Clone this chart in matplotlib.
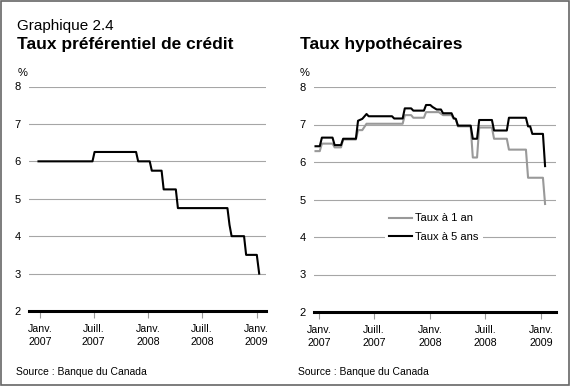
import pandas as pd
import matplotlib
matplotlib.use("Agg")
import matplotlib.pyplot as plt
from matplotlib.patches import Rectangle

plt.rcParams['font.family'] = ['Liberation Sans', 'DejaVu Sans']

# Taux préférentiel
prime_dates = ["2006-12-27", "2007-06-27", "2007-07-04", "2007-11-21", "2007-11-28",
               "2008-01-06", "2008-01-13", "2008-02-15", "2008-02-22", "2008-04-03",
               "2008-04-10", "2008-09-24", "2008-10-01", "2008-10-08", "2008-11-19",
               "2008-11-26", "2009-01-01", "2009-01-09"]
prime_vals = [6.0, 6.0, 6.25, 6.25, 6.0,
              6.0, 5.75, 5.75, 5.25, 5.25,
              4.75, 4.75, 4.3, 4.0, 4.0,
              3.5, 3.5, 3.0]

# Taux hypothécaires à 5 ans
m5_dates = ["2006-12-20", "2007-01-03", "2007-01-10", "2007-02-14", "2007-02-21",
            "2007-03-14", "2007-03-21", "2007-05-02", "2007-05-09", "2007-05-23",
            "2007-06-06", "2007-06-13", "2007-08-29", "2007-09-05", "2007-10-03",
            "2007-10-10", "2007-10-31", "2007-11-07", "2007-12-12", "2007-12-19",
            "2008-01-02", "2008-01-09", "2008-01-23", "2008-02-06", "2008-02-13",
            "2008-03-12", "2008-03-19", "2008-03-26", "2008-04-02", "2008-05-14",
            "2008-05-21", "2008-06-04", "2008-06-11", "2008-07-23", "2008-07-30",
            "2008-09-10", "2008-09-17", "2008-11-12", "2008-11-19", "2008-11-26",
            "2008-12-03", "2009-01-07", "2009-01-14"]
m5_vals = [6.42, 6.42, 6.65, 6.65, 6.45,
           6.45, 6.62, 6.62, 7.10, 7.15,
           7.28, 7.22, 7.22, 7.16, 7.16,
           7.43, 7.43, 7.37, 7.37, 7.52,
           7.52, 7.47, 7.40, 7.40, 7.30,
           7.30, 7.17, 7.15, 6.97, 6.97,
           6.62, 6.62, 7.12, 7.12, 6.84,
           6.84, 7.18, 7.18, 6.95, 6.95,
           6.75, 6.75, 5.89]

# Taux hypothécaires à 1 an
m1_dates = ["2006-12-20", "2007-01-03", "2007-01-10", "2007-02-14", "2007-02-21",
            "2007-03-14", "2007-03-21", "2007-05-02", "2007-05-09", "2007-05-23",
            "2007-06-06", "2007-10-03", "2007-10-10", "2007-10-31", "2007-11-07",
            "2007-12-12", "2007-12-19", "2008-01-30", "2008-02-13", "2008-03-12",
            "2008-03-19", "2008-03-26", "2008-04-02", "2008-05-14", "2008-05-21",
            "2008-06-04", "2008-06-11", "2008-07-23", "2008-07-30", "2008-09-10",
            "2008-09-17", "2008-11-12", "2008-11-19", "2009-01-07", "2009-01-14"]
m1_vals = [6.29, 6.29, 6.49, 6.49, 6.39,
           6.39, 6.60, 6.60, 6.85, 6.85,
           7.02, 7.02, 7.25, 7.25, 7.18,
           7.18, 7.33, 7.33, 7.25, 7.25,
           7.15, 7.15, 6.95, 6.95, 6.12,
           6.12, 6.92, 6.92, 6.62, 6.62,
           6.33, 6.33, 5.58, 5.58, 4.88]

tick_dates = ["2007-01-01", "2007-07-01", "2008-01-01", "2008-07-01", "2009-01-01"]
tick_labels = ["Janv.\n2007", "Juill.\n2007", "Janv.\n2008", "Juill.\n2008", "Janv.\n2009"]
y_ticks = [2, 3, 4, 5, 6, 7, 8]

fig = plt.figure(figsize=(5.75, 3.86), dpi=100)

ax1 = fig.add_axes([29/575, 75/386, 237/575, 224.5/386])
ax2 = fig.add_axes([314/575, 74/386, 242/575, 225/386])


def style(ax, xmin, xmax):
    ax.set_ylim(2, 8)
    ax.set_xlim(pd.Timestamp(xmin), pd.Timestamp(xmax))
    for s in ["top", "right", "left"]:
        ax.spines[s].set_visible(False)
    ax.spines["bottom"].set_linewidth(2.2)
    ax.spines["bottom"].set_color("black")
    ax.spines["bottom"].set_zorder(5)
    ax.set_yticks(y_ticks)
    ax.set_yticklabels([str(v) for v in y_ticks])
    ax.yaxis.grid(True, color="#a6a6a6", linewidth=0.8)
    ax.set_axisbelow(True)
    ax.set_xticks(pd.to_datetime(tick_dates))
    ax.set_xticklabels(tick_labels, linespacing=1.4)
    ax.tick_params(axis="y", length=0, pad=6, labelsize=8)
    ax.tick_params(axis="x", length=5, width=0.8, color="#999999", pad=4.5,
                   labelsize=7.7, direction="out")


ax1.plot(pd.to_datetime(prime_dates), prime_vals, color="black", lw=1.5, zorder=3)
style(ax1, "2006-11-25", "2009-02-01")

ax2.plot(pd.to_datetime(m1_dates), m1_vals, color="#999999", lw=1.5, zorder=3,
         label="Taux à 1 an")
ax2.plot(pd.to_datetime(m5_dates), m5_vals, color="black", lw=1.5, zorder=4,
         label="Taux à 5 ans")
style(ax2, "2006-12-15", "2009-02-19")
leg = ax2.legend(loc="center", bbox_to_anchor=(0.495, 0.375), frameon=True,
                 fontsize=8, handlelength=2.0, handletextpad=0.3, labelspacing=0.75,
                 borderpad=0.4, borderaxespad=0)
leg.get_frame().set_facecolor("white")
leg.get_frame().set_edgecolor("none")
leg.get_frame().set_alpha(1)

# Textes
fig.text(17/575, 1 - 30/386, "Graphique 2.4", fontsize=11, va="baseline")
fig.text(17/575, 1 - 49/386, "Taux préférentiel de crédit", fontsize=12.5,
         fontweight="bold", va="baseline")
fig.text(300/575, 1 - 49/386, "Taux hypothécaires", fontsize=12.5,
         fontweight="bold", va="baseline")
fig.text(18/575, 1 - 76/386, "%", fontsize=8, va="baseline")
fig.text(300/575, 1 - 76/386, "%", fontsize=8, va="baseline")
fig.text(16/575, 1 - 375/386, "Source : Banque du Canada", fontsize=7.5, va="baseline")
fig.text(298/575, 1 - 375/386, "Source : Banque du Canada", fontsize=7.5, va="baseline")

# Cadre
fig.patches.append(Rectangle((1/575, 1/386), 568/575, 384/386, transform=fig.transFigure,
                             fill=False, edgecolor="#666666", linewidth=1.2))

fig.savefig("out.png", dpi=100)
